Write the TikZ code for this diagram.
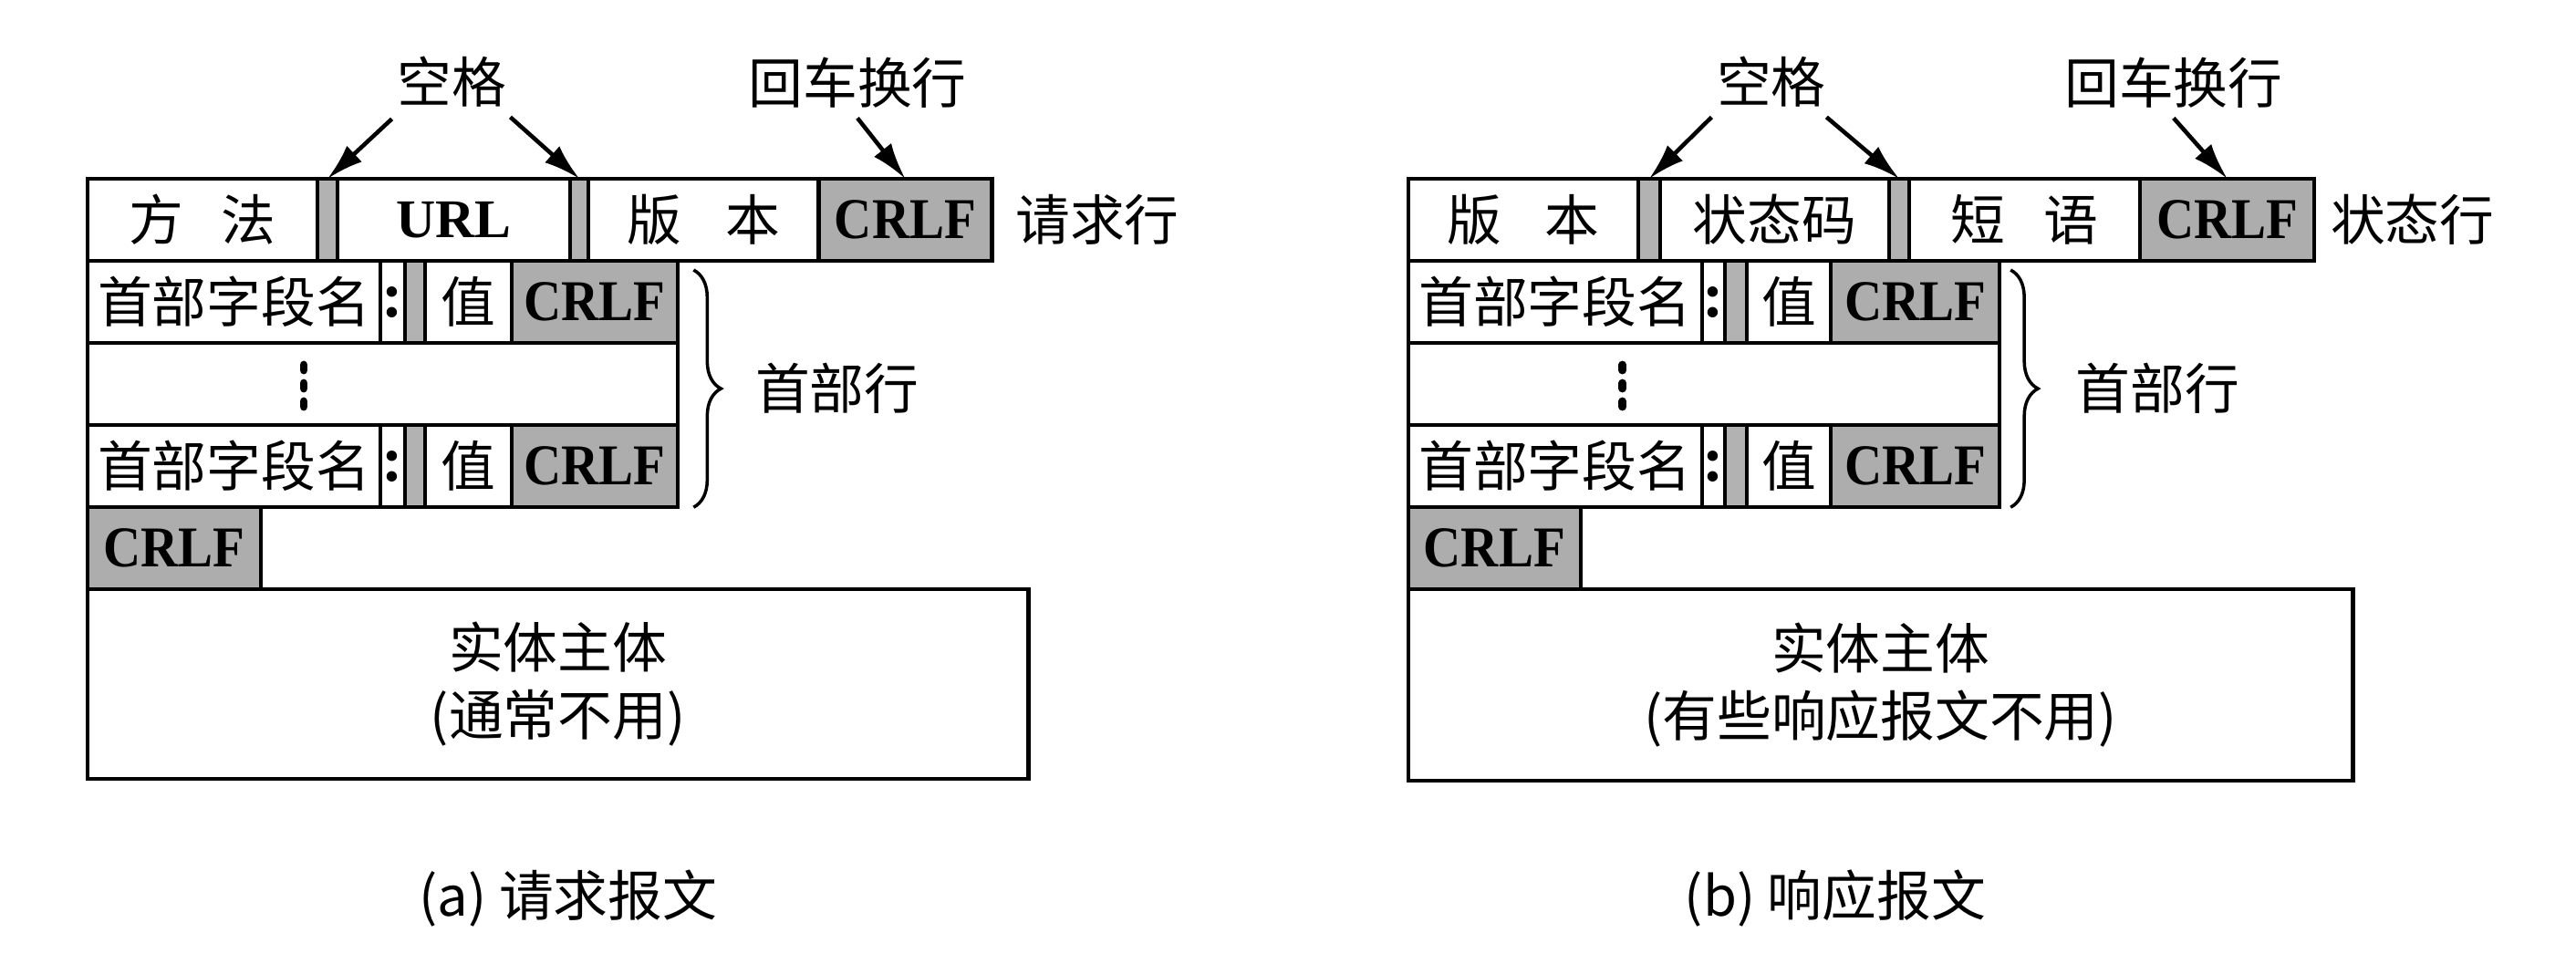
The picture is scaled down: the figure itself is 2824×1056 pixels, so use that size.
\documentclass[tikz,border=0pt]{standalone}
\usepackage{fontspec}
\setmainfont{Noto Sans CJK SC}
\newfontfamily\latinserif{Liberation Serif}
\usepackage{graphicx}
\usepackage{tikz}
\usetikzlibrary{positioning}
\usetikzlibrary{arrows.meta,decorations.pathreplacing}
\colorlet{crlfgray}{black!32}
\colorlet{gapgray}{black!30}
\tikzset{>=latex}
\tikzset{
  cell/.style={draw, line width=1.2pt, outer sep=0pt, inner sep=0pt,
    minimum height=0.9cm, font=\fontsize{17}{20}\selectfont},
  gapcell/.style={cell, fill=gapgray, minimum width=0.22cm},
  crlfcell/.style={cell, fill=crlfgray,
    font=\latinserif\bfseries\fontsize{18}{20}\selectfont},
  colcell/.style={cell, minimum width=0.27cm,
    font=\latinserif\bfseries\fontsize{20}{20}\selectfont},
  urlcell/.style={cell, font=\latinserif\bfseries\fontsize{17}{20}\selectfont},
  lbl/.style={inner sep=0pt, font=\fontsize{17}{20}\selectfont},
  pointer/.style={line width=1.3pt, -{Latex[length=4mm,width=2.4mm]}},
  hbrace/.style={line width=1pt, decorate, decoration={brace, amplitude=0.3cm}},
}
\newcommand{\crlftext}{\scalebox{0.9}[1]{CRLF}}

\begin{document}
\begin{tikzpicture}[x=0.01cm, y=-0.01cm]
\useasboundingbox (0,0) rectangle (2824,1056);

% ---------- (a) Request message ----------
% Request line
\node[cell, minimum width=2.52cm] (qmeth) at (222,241) {方\hspace{0.7em}法};
\node[gapcell, right=0pt of qmeth] (qgapA) {};
\node[urlcell, minimum width=2.55cm, right=0pt of qgapA] (qurl) {URL};
\node[gapcell, minimum width=0.20cm, right=0pt of qurl] (qgapB) {};
\node[cell, minimum width=2.52cm, right=0pt of qgapB] (qver) {版\hspace{0.8em}本};
\node[crlfcell, minimum width=1.90cm, right=0pt of qver] (qcrlf) {\crlftext};
\node[lbl, right=0.25cm of qcrlf] (qline) {请求行};

% Pointers
\node[lbl] (qspace) at (495,90) {空格};
\node[lbl] (qcrtag) at (940,91) {回车换行};
\draw[pointer] ([xshift=-0.05cm,yshift=-0.12cm]qspace.south west) -- (qgapA.north);
\draw[pointer] ([xshift=0.04cm,yshift=-0.1cm]qspace.south east) -- (qgapB.north);
\draw[pointer] ([yshift=-0.1cm]qcrtag.south) -- (qcrlf.north);

% Header lines
\node[cell, anchor=north west, minimum width=3.21cm] (qnameA) at (qmeth.south west) {首部字段名};
\node[colcell, right=0pt of qnameA] (qcolA) {:};
\node[gapcell, right=0pt of qcolA] (qgapC) {};
\node[cell, minimum width=0.95cm, right=0pt of qgapC] (qvalA) {值};
\node[crlfcell, minimum width=1.82cm, right=0pt of qvalA] (qcrlfA) {\crlftext};

\node[cell, anchor=north west, minimum width=6.47cm] (qdots) at (qnameA.south west) {};
\foreach \y in {403,423,443}{
  \draw[line width=2.5pt, line cap=round] (333,\y-3) -- (333,\y+3);
}

\node[cell, anchor=north west, minimum width=3.21cm] (qnameB) at (qdots.south west) {首部字段名};
\node[colcell, right=0pt of qnameB] (qcolB) {:};
\node[gapcell, right=0pt of qcolB] (qgapD) {};
\node[cell, minimum width=0.95cm, right=0pt of qgapD] (qvalB) {值};
\node[crlfcell, minimum width=1.82cm, right=0pt of qvalB] (qcrlfB) {\crlftext};

\draw[hbrace] ([xshift=0.17cm,yshift=-0.1cm]qcrlfA.north east)
  -- node[lbl, right=0.66cm] (qhead) {首部行} ([xshift=0.17cm]qcrlfB.south east);

% Empty line and body
\node[crlfcell, anchor=north west, minimum width=1.90cm] (qcrlfC) at (qnameB.south west) {\crlftext};
\node[cell, anchor=north west, minimum width=10.31cm, minimum height=2.08cm,
  align=center, font=\fontsize{17}{21}\selectfont] (qbody) at (qcrlfC.south west) {实体主体\\(通常不用)};

\node[lbl] (qcap) at (623,985) {(a) 请求报文};

% ---------- (b) Response message ----------
\begin{scope}[xshift=14.47cm]
% Status line
\node[cell, minimum width=2.52cm] (rver) at (222,241) {版\hspace{0.8em}本};
\node[gapcell, minimum width=0.24cm, right=0pt of rver] (rgapA) {};
\node[cell, minimum width=2.51cm, right=0pt of rgapA] (rcode) {状态码};
\node[gapcell, right=0pt of rcode] (rgapB) {};
\node[cell, minimum width=2.53cm, right=0pt of rgapB] (rphr) {短\hspace{0.7em}语};
\node[crlfcell, minimum width=1.91cm, right=0pt of rphr] (rcrlf) {\crlftext};
\node[lbl, right=0.17cm of rcrlf] (rline) {状态行};

% Pointers
\node[lbl] (rspace) at (494,90) {空格};
\node[lbl] (rcrtag) at (935,91) {回车换行};
\draw[pointer] ([xshift=-0.05cm,yshift=-0.1cm]rspace.south west) -- (rgapA.north);
\draw[pointer] ([xshift=0.0cm,yshift=-0.1cm]rspace.south east) -- (rgapB.north);
\draw[pointer] ([yshift=-0.1cm]rcrtag.south) -- (rcrlf.north);

% Header lines
\node[cell, anchor=north west, minimum width=3.22cm] (rnameA) at (rver.south west) {首部字段名};
\node[colcell, minimum width=0.25cm, right=0pt of rnameA] (rcolA) {:};
\node[gapcell, minimum width=0.24cm, right=0pt of rcolA] (rgapC) {};
\node[cell, minimum width=0.92cm, right=0pt of rgapC] (rvalA) {值};
\node[crlfcell, minimum width=1.85cm, right=0pt of rvalA] (rcrlfA) {\crlftext};

\node[cell, anchor=north west, minimum width=6.48cm] (rdots) at (rnameA.south west) {};
\foreach \y in {403,423,443}{
  \draw[line width=2.5pt, line cap=round] (331,\y-3) -- (331,\y+3);
}

\node[cell, anchor=north west, minimum width=3.22cm] (rnameB) at (rdots.south west) {首部字段名};
\node[colcell, minimum width=0.25cm, right=0pt of rnameB] (rcolB) {:};
\node[gapcell, minimum width=0.24cm, right=0pt of rcolB] (rgapD) {};
\node[cell, minimum width=0.92cm, right=0pt of rgapD] (rvalB) {值};
\node[crlfcell, minimum width=1.85cm, right=0pt of rvalB] (rcrlfB) {\crlftext};

\draw[hbrace] ([xshift=0.12cm,yshift=-0.1cm]rcrlfA.north east)
  -- node[lbl, right=0.7cm] (rhead) {首部行} ([xshift=0.12cm]rcrlfB.south east);

% Empty line and body
\node[crlfcell, anchor=north west, minimum width=1.89cm] (rcrlfC) at (rnameB.south west) {\crlftext};
\node[cell, anchor=north west, minimum width=10.35cm, minimum height=2.1cm,
  align=center, font=\fontsize{17}{21}\selectfont] (rbody) at (rcrlfC.south west) {实体主体\\(有些响应报文不用)};

\node[lbl] (rcap) at (564,985) {(b) 响应报文};
\end{scope}

\end{tikzpicture}
\end{document}
